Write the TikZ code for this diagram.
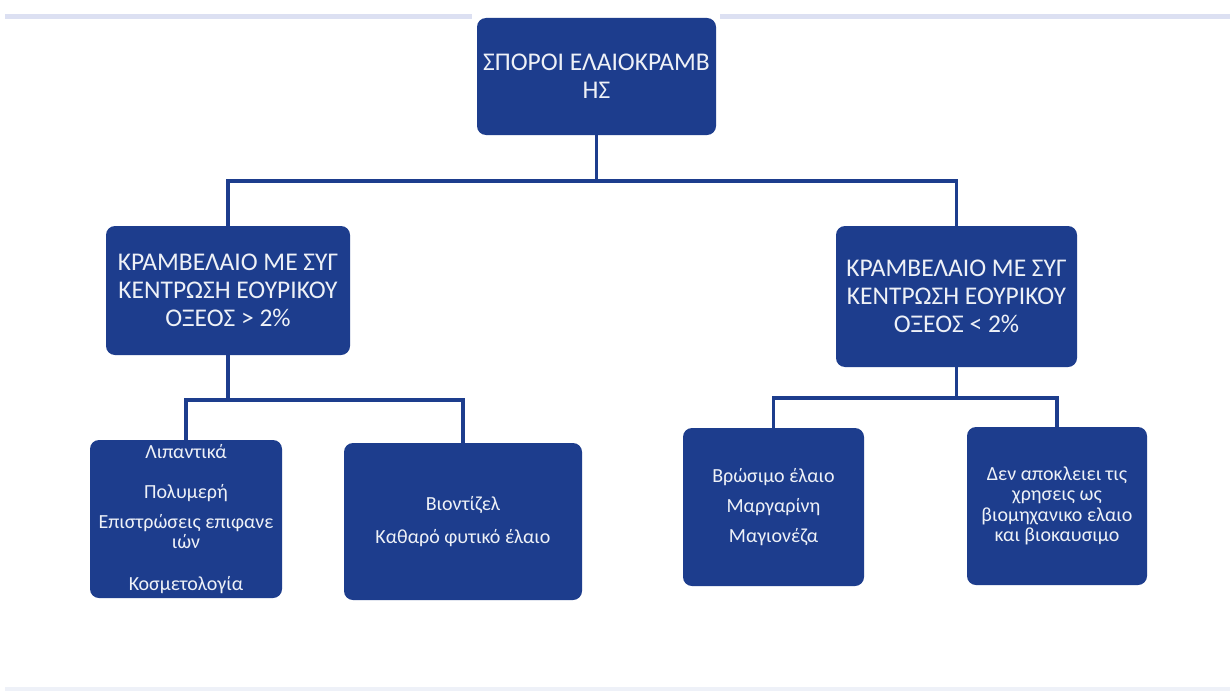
\documentclass[tikz,border=0pt]{standalone}
\usepackage{fontspec}
\setmainfont{Carlito}
\definecolor{boxblue}{HTML}{1D3D8D}
\definecolor{faint}{HTML}{DCE0F2}
\definecolor{faintb}{HTML}{EEF1F8}
\definecolor{boxtext}{HTML}{EEF1F7}
\begin{document}
\begin{tikzpicture}[x=1pt,y=-1pt,
  box/.style={fill=boxblue, rounded corners=9pt, text=boxtext, align=center, inner sep=0pt},
  toptext/.style={font=\fontsize{25.5}{28}\selectfont},
  bigtext/.style={font=\fontsize{25.5}{28}\selectfont},
  smalltext/.style={font=\fontsize{20}{20.5}\selectfont},
  link/.style={draw=boxblue, line width=3.5pt}]
\useasboundingbox (0,0) rectangle (1230,693);
\fill[white] (0,0) rectangle (1230,693);
\draw[faint, line width=5pt] (5,17) -- (472,17);
\draw[faint, line width=5pt] (720,17) -- (1230,17);
\draw[faintb, line width=4pt] (5,689) -- (1230,689);

\node[box, toptext, minimum width=239pt, minimum height=117pt] (top) at (596.5,76.5)
  {ΣΠΟΡΟΙ ΕΛΑΙΟΚΡΑΜΒ\\ΗΣ};
\node[box, bigtext, minimum width=244pt, minimum height=129pt] (ml) at (228,290.5)
  {ΚΡΑΜΒΕΛΑΙΟ ΜΕ ΣΥΓ\\ΚΕΝΤΡΩΣΗ ΕΟΥΡΙΚΟΥ\\ΟΞΕΟΣ > 2\%};
\node[box, bigtext, minimum width=241pt, minimum height=141pt] (mr) at (956.5,296.5)
  {ΚΡΑΜΒΕΛΑΙΟ ΜΕ ΣΥΓ\\ΚΕΝΤΡΩΣΗ ΕΟΥΡΙΚΟΥ\\ΟΞΕΟΣ < 2\%};
\node[box, smalltext, minimum width=192pt, minimum height=158pt] (b1) at (186,519)
  {Λιπαντικά\\[19.5pt]Πολυμερή\\[9.5pt]Επιστρώσεις επιφανε\\ιών\\[21.5pt]Κοσμετολογία};
\node[box, smalltext, minimum width=238pt, minimum height=157pt] (b2) at (463,521.5)
  {Βιοντίζελ\\[12.5pt]Καθαρό φυτικό έλαιο};
\node[box, smalltext, minimum width=181pt, minimum height=158pt] (b3) at (773.5,507)
  {Βρώσιμο έλαιο\\[9.5pt]Μαργαρίνη\\[9.5pt]Μαγιονέζα};
\node[box, smalltext, minimum width=180pt, minimum height=158pt] (b4) at (1057,506)
  {Δεν αποκλειει τις\\χρησεις ως\\βιομηχανικο ελαιο\\και βιοκαυσιμο};

\coordinate (j1) at (596,181);
\coordinate (j2) at (230,400);
\coordinate (j3) at (958,398);
\draw[link] (top.south) -- (top.south |- j1);
\draw[link] (ml.north) |- (j1) -| (mr.north);
\draw[link] (ml.south) -- (ml.south |- j2);
\draw[link] (b1.north) |- (j2) -| (b2.north);
\draw[link] (mr.south) -- (mr.south |- j3);
\draw[link] (b3.north) |- (j3) -| (b4.north);
\end{tikzpicture}
\end{document}
